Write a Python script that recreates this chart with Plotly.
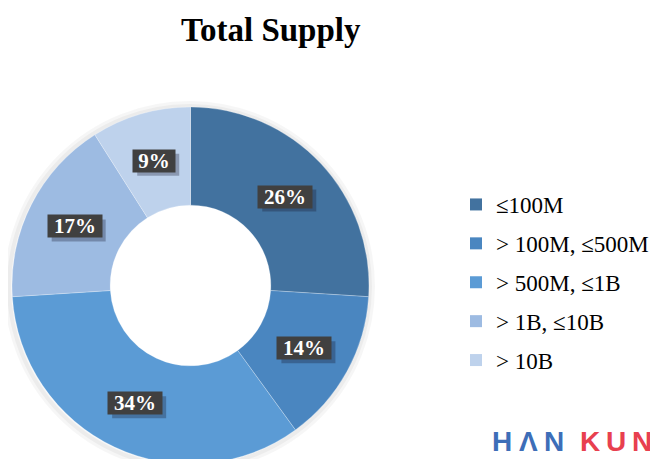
import math
import plotly.graph_objects as go

title = "Total Supply"
labels = ["≤100M", "> 100M, ≤500M", "> 500M, ≤1B", "> 1B, ≤10B", "> 10B"]
values = [26, 14, 34, 17, 9]
colors = ["#42729F", "#4A86C0", "#5B9BD5", "#9DBBE2", "#BED2EC"]
logo_letters = ["H", "\u039b", "N", "K", "U", "N"]
logo_colors = ["#3D6EB8"] * 3 + ["#E8404F"] * 3

W, H = 658, 459
# pie placement (figure pixels)
cx, cy, r_out = 182.5, 277.5, 178.5
hole = 0.45

fig = go.Figure()
fig.add_trace(go.Pie(
    labels=labels, values=values, sort=False, direction="clockwise", rotation=0,
    hole=hole, marker=dict(colors=colors, line=dict(color="rgba(255,255,255,0.5)", width=0.5)),
    textinfo="none", hoverinfo="label+percent", showlegend=False,
    domain=dict(x=[(cx - r_out) / W, (cx + r_out) / W],
                y=[1 - (cy + r_out) / H, 1 - (cy - r_out) / H]),
))

# soft shadow ring just outside the doughnut
for k, wd, a in [(3, 8, 0.035), (2, 4, 0.04)]:
    rs = r_out + k
    fig.add_shape(type="circle", xref="paper", yref="paper", layer="below",
                  x0=(cx - rs - 1) / W, x1=(cx + rs - 1) / W,
                  y0=1 - (cy + rs + 1) / H, y1=1 - (cy - rs + 1) / H,
                  fillcolor="rgba(0,0,0,0)", line=dict(width=wd, color=f"rgba(0,0,0,{a})"))

# legend via dummy traces for spacing control
for i, (lab, col) in enumerate(zip(labels, colors)):
    fig.add_trace(go.Scatter(x=[None], y=[None], mode="markers", name=lab,
                             legendgroup=f"g{i}",
                             marker=dict(symbol="square", size=12, color=col),
                             showlegend=True))

# percentage labels with dark boxes
total = sum(values)
r_lab = 130
cum = 0
for v in values:
    mid = (cum + v / 2) / total * 2 * math.pi
    cum += v
    lx = cx + r_lab * math.sin(mid)
    ly = cy - r_lab * math.cos(mid)
    txt = f"{round(v / total * 100)}%"
    w = 52 if len(txt) > 2 else 40
    bw, bh = w + 2, 22
    fig.add_shape(type="rect", xref="paper", yref="paper", layer="above",
                  x0=(lx - bw / 2 + 4) / W, x1=(lx + bw / 2 + 4) / W,
                  y0=1 - (ly + bh / 2 + 4) / H, y1=1 - (ly - bh / 2 + 4) / H,
                  fillcolor="rgba(20,20,40,0.3)", line=dict(width=0))
    fig.add_annotation(x=lx / W, y=1 - ly / H, xref="paper", yref="paper",
                       xanchor="center", yanchor="middle", showarrow=False,
                       width=w, height=20, borderpad=1,
                       text=f"<b>{txt}</b>", bgcolor="#404040",
                       font=dict(family="Liberation Serif", size=21, color="white"))

# title
fig.add_annotation(x=263 / W, y=1 - 22 / H, xref="paper", yref="paper",
                   xanchor="center", yanchor="middle",
                   text=f"<b>{title}</b>", showarrow=False,
                   font=dict(family="Liberation Serif", size=33, color="black"))

# logo, letter by letter
x0, pitch, word_gap = 494, 26, 10
for i, (ch, col) in enumerate(zip(logo_letters, logo_colors)):
    lx = x0 + i * pitch + (word_gap if i >= 3 else 0)
    fig.add_annotation(x=lx / W, y=1 - 433 / H, xref="paper", yref="paper",
                       xanchor="center", yanchor="middle", text=f"<b>{ch}</b>", showarrow=False,
                       font=dict(family="Liberation Sans", size=28, color=col))

fig.update_layout(
    width=W, height=H,
    margin=dict(l=0, r=0, t=0, b=0),
    paper_bgcolor="white", plot_bgcolor="white",
    xaxis=dict(visible=False), yaxis=dict(visible=False),
    legend=dict(x=448 / W, y=1 - 175 / H, xanchor="left", yanchor="top",
                font=dict(family="Liberation Serif", size=23, color="black"),
                tracegroupgap=6, itemsizing="constant", traceorder="grouped",
                bgcolor="rgba(0,0,0,0)"),
)

fig.write_html("out.html")
